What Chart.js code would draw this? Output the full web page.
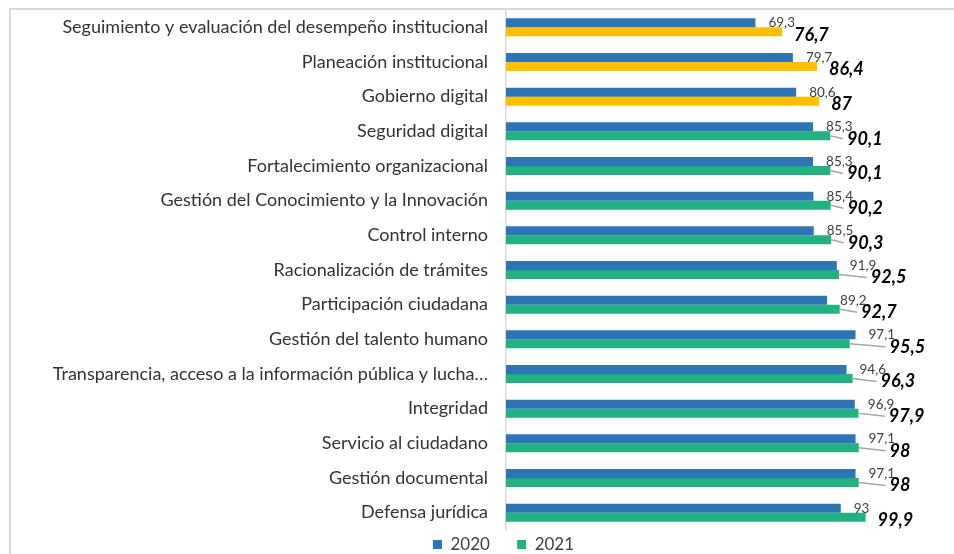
<!DOCTYPE html>
<html>
<head>
<meta charset="utf-8">
<script src="https://cdn.jsdelivr.net/npm/chart.js@4.4.0/dist/chart.umd.min.js"></script>
<style>
    html, body { margin: 0; padding: 0; background: #fff; overflow: hidden; }
    #wrap { position: relative; width: 954px; height: 554px; overflow: hidden; }
    #frame { position: absolute; left: 9px; top: 8px; width: 1200px; height: 800px; border: 2px solid #d9d9d9; }
    canvas { position: absolute; left: 0; top: 0; }
</style>
</head>
<body>
<div id="wrap">
    <div id="frame"></div>
    <!-- the original chart is wider than the visible crop -->
    <canvas id="my-graph" width="997" height="554"></canvas>
</div>
<script>
const categories = [
    "Seguimiento y evaluación del desempeño institucional",
    "Planeación institucional",
    "Gobierno digital",
    "Seguridad digital",
    "Fortalecimiento organizacional",
    "Gestión del Conocimiento y la Innovación",
    "Control interno",
    "Racionalización de trámites",
    "Participación ciudadana",
    "Gestión del talento humano",
    "Transparencia, acceso a la información pública y lucha…",
    "Integridad",
    "Servicio al ciudadano",
    "Gestión documental",
    "Defensa jurídica"
];
const values_2020 = [69.3, 79.7, 80.6, 85.3, 85.3, 85.4, 85.5, 91.9, 89.2, 97.1, 94.6, 96.9, 97.1, 97.1, 93];
const values_2021 = [76.7, 86.4, 87, 90.1, 90.1, 90.2, 90.3, 92.5, 92.7, 95.5, 96.3, 97.9, 98, 98, 99.9];
const series_names = ["2020", "2021"];

const blue = "#2e75b6";
const green = "#22b183";
const yellow = "#ffc000";
// 2021 bars under 90 are shown in yellow
const colors_2021 = values_2021.map(v => v < 90 ? yellow : green);

function fmt(v) {
    return String(v).replace(".", ",");
}

const value_labels = {
    id: "value_labels",
    afterDatasetsDraw(chart) {
        const ctx = chart.ctx;
        const bars_2020 = chart.getDatasetMeta(0).data;
        const bars_2021 = chart.getDatasetMeta(1).data;
        ctx.save();
        ctx.textAlign = "left";
        ctx.textBaseline = "middle";
        bars_2020.forEach((bar, i) => {
            const bar_b = bars_2021[i];
            ctx.font = "13.5px Lato";
            ctx.fillStyle = "#404040";
            ctx.fillText(fmt(values_2020[i]), bar.x + 13, bar.y);

            // 2021 label sits past the 2020 label, with a leader line when pushed away
            const lx = Math.max(bar_b.x + 12, bar.x + 34);
            const ly = bar_b.y + 3;
            if (lx - bar_b.x > 16) {
                ctx.strokeStyle = "#a6a6a6";
                ctx.lineWidth = 1.5;
                ctx.beginPath();
                ctx.moveTo(bar_b.x, bar_b.y);
                ctx.lineTo(lx - 4, ly);
                ctx.stroke();
            }
            ctx.font = "italic bold 18px Lato";
            ctx.fillStyle = "#000";
            ctx.fillText(fmt(values_2021[i]), lx, ly);
        });
        ctx.restore();
    }
};

const my_chart = new Chart("my-graph", {
    type: "bar",
    data: {
        labels: categories,
        datasets: [{
            label: series_names[0],
            data: values_2020,
            backgroundColor: blue,
            categoryPercentage: 0.52,
            barPercentage: 1
        }, {
            label: series_names[1],
            data: values_2021,
            backgroundColor: colors_2021,
            categoryPercentage: 0.52,
            barPercentage: 1
        }]
    },
    options: {
        indexAxis: "y",
        responsive: false,
        animation: false,
        layout: { padding: { left: 10, top: 10, right: 0, bottom: -9 } },
        scales: {
            x: { display: false, min: 0, max: 136.4 },
            y: {
                grid: { display: false, drawTicks: false },
                border: { display: true, color: "#d9d9d9", width: 1.5 },
                ticks: { color: "#333", font: { family: "Lato", size: 18 }, padding: 18, autoSkip: false },
                afterFit(scale) {
                    scale.width = 496;
                    scale.paddingTop = 0;
                    scale.paddingBottom = 0;
                }
            }
        },
        plugins: {
            tooltip: { enabled: false },
            legend: {
                position: "bottom",
                labels: {
                    boxWidth: 9,
                    boxHeight: 9,
                    padding: 6,
                    color: "#404040",
                    font: { family: "Lato", size: 17 },
                    generateLabels(chart) {
                        const items = Chart.defaults.plugins.legend.labels.generateLabels(chart);
                        items.forEach((item, i) => {
                            item.fillStyle = i == 0 ? blue : green;
                            item.strokeStyle = "transparent";
                            item.lineWidth = 0;
                            if (i < items.length - 1) item.text += "\u2003\u2002";
                        });
                        return items;
                    }
                }
            }
        }
    },
    plugins: [value_labels]
});
</script>
</body>
</html>
